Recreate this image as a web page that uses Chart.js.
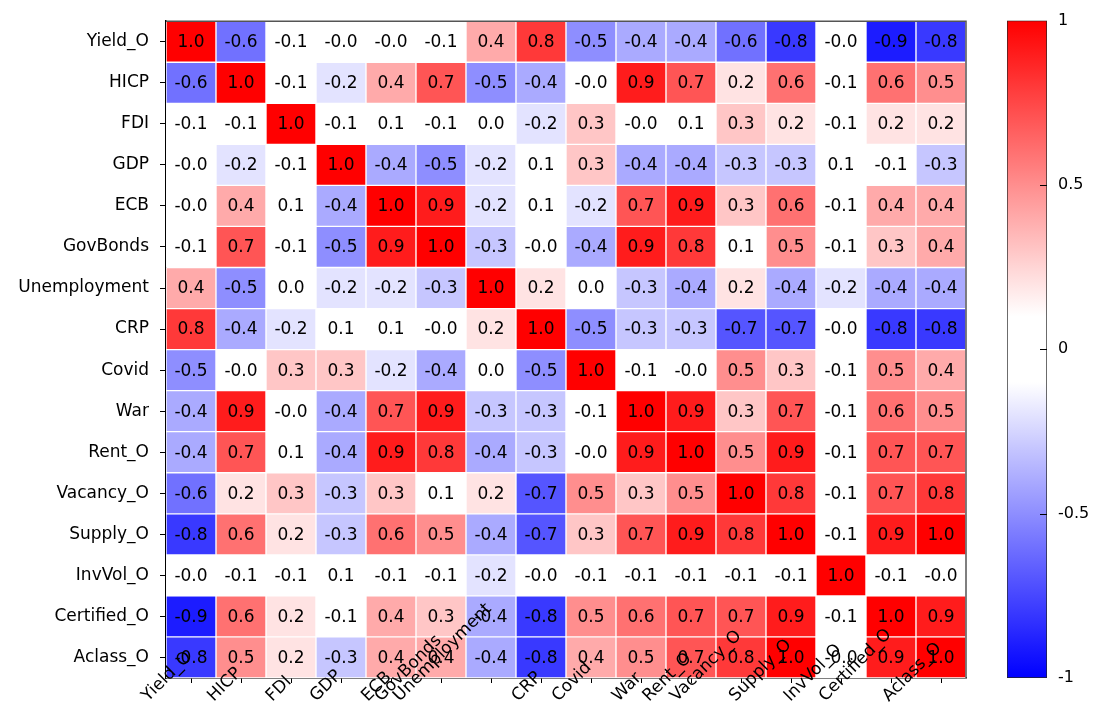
<!DOCTYPE html>
<html>
<head>
<meta charset="utf-8">
<script src="https://cdn.jsdelivr.net/npm/chart.js@4.4.0/dist/chart.umd.min.js"></script>
<style>
    html, body { margin: 0; padding: 0; background: #fff; }
    #wrap { position: relative; width: 1098px; height: 706px; }
    #heatmap { position: absolute; left: 0; top: 0; }
    #colorbar { position: absolute; left: 990px; top: 0; }
</style>
</head>
<body>
<div id="wrap">
    <canvas id="heatmap" width="1098" height="706"></canvas>
    <canvas id="colorbar" width="108" height="706"></canvas>
</div>
<script>
// Variable names (rows top to bottom, columns left to right)
const names = ['Yield_O', 'HICP', 'FDI', 'GDP', 'ECB', 'GovBonds', 'Unemployment', 'CRP',
    'Covid', 'War', 'Rent_O', 'Vacancy_O', 'Supply_O', 'InvVol_O', 'Certified_O', 'Aclass_O'];

// Correlations, one row per variable (-0.01 shows as "-0.0")
const rowYield = [1.0, -0.6, -0.1, -0.01, -0.01, -0.1, 0.4, 0.8, -0.5, -0.4, -0.4, -0.6, -0.8, -0.01, -0.9, -0.8];
const rowHicp = [-0.6, 1.0, -0.1, -0.2, 0.4, 0.7, -0.5, -0.4, -0.01, 0.9, 0.7, 0.2, 0.6, -0.1, 0.6, 0.5];
const rowFdi = [-0.1, -0.1, 1.0, -0.1, 0.1, -0.1, 0.01, -0.2, 0.3, -0.01, 0.1, 0.3, 0.2, -0.1, 0.2, 0.2];
const rowGdp = [-0.01, -0.2, -0.1, 1.0, -0.4, -0.5, -0.2, 0.1, 0.3, -0.4, -0.4, -0.3, -0.3, 0.1, -0.1, -0.3];
const rowEcb = [-0.01, 0.4, 0.1, -0.4, 1.0, 0.9, -0.2, 0.1, -0.2, 0.7, 0.9, 0.3, 0.6, -0.1, 0.4, 0.4];
const rowGovBonds = [-0.1, 0.7, -0.1, -0.5, 0.9, 1.0, -0.3, -0.01, -0.4, 0.9, 0.8, 0.1, 0.5, -0.1, 0.3, 0.4];
const rowUnemp = [0.4, -0.5, 0.01, -0.2, -0.2, -0.3, 1.0, 0.2, 0.01, -0.3, -0.4, 0.2, -0.4, -0.2, -0.4, -0.4];
const rowCrp = [0.8, -0.4, -0.2, 0.1, 0.1, -0.01, 0.2, 1.0, -0.5, -0.3, -0.3, -0.7, -0.7, -0.01, -0.8, -0.8];
const rowCovid = [-0.5, -0.01, 0.3, 0.3, -0.2, -0.4, 0.01, -0.5, 1.0, -0.1, -0.01, 0.5, 0.3, -0.1, 0.5, 0.4];
const rowWar = [-0.4, 0.9, -0.01, -0.4, 0.7, 0.9, -0.3, -0.3, -0.1, 1.0, 0.9, 0.3, 0.7, -0.1, 0.6, 0.5];
const rowRent = [-0.4, 0.7, 0.1, -0.4, 0.9, 0.8, -0.4, -0.3, -0.01, 0.9, 1.0, 0.5, 0.9, -0.1, 0.7, 0.7];
const rowVacancy = [-0.6, 0.2, 0.3, -0.3, 0.3, 0.1, 0.2, -0.7, 0.5, 0.3, 0.5, 1.0, 0.8, -0.1, 0.7, 0.8];
const rowSupply = [-0.8, 0.6, 0.2, -0.3, 0.6, 0.5, -0.4, -0.7, 0.3, 0.7, 0.9, 0.8, 1.0, -0.1, 0.9, 1.0];
const rowInvVol = [-0.01, -0.1, -0.1, 0.1, -0.1, -0.1, -0.2, -0.01, -0.1, -0.1, -0.1, -0.1, -0.1, 1.0, -0.1, -0.01];
const rowCertified = [-0.9, 0.6, 0.2, -0.1, 0.4, 0.3, -0.4, -0.8, 0.5, 0.6, 0.7, 0.7, 0.9, -0.1, 1.0, 0.9];
const rowAclass = [-0.8, 0.5, 0.2, -0.3, 0.4, 0.4, -0.4, -0.8, 0.4, 0.5, 0.7, 0.8, 1.0, -0.01, 0.9, 1.0];

const matrix = [rowYield, rowHicp, rowFdi, rowGdp, rowEcb, rowGovBonds, rowUnemp, rowCrp,
    rowCovid, rowWar, rowRent, rowVacancy, rowSupply, rowInvVol, rowCertified, rowAclass];

// Colour bar range and ticks
const cbRange = [-1, 1];
const cbTicks = [-1, -0.5, 0, 0.5, 1];

((document) => {
    'use strict';

    const FONT = 'DejaVu Sans';
    const SIZE = 17;

    // blue - white - red, with a small white band round zero
    function colorFor(v) {
        const t = Math.max(0, Math.min(1, (Math.abs(v) - 0.1) / 0.9));
        const c = Math.round(255 * (1 - t));
        return v >= 0 ? `rgb(255,${c},${c})` : `rgb(${c},${c},255)`;
    }

    const datasets = matrix.map((row, i) => ({
        label: names[i],
        data: row.map(() => [i - 0.5, i + 0.5]),
        backgroundColor: row.map(colorFor),
        borderColor: '#ffffff',
        borderWidth: 1,
        borderSkipped: false,
        barPercentage: 1,
        categoryPercentage: 1,
        grouped: false
    }));

    // Cell values, frame and the slanted x labels
    const cellText = {
        id: 'cellText',
        afterDatasetsDraw(chart) {
            const ctx = chart.ctx;
            ctx.save();
            ctx.font = `${SIZE}px "${FONT}"`;
            ctx.fillStyle = '#000';
            ctx.textAlign = 'center';
            ctx.textBaseline = 'middle';
            matrix.forEach((row, i) => {
                const meta = chart.getDatasetMeta(i);
                meta.data.forEach((el, j) => {
                    ctx.fillText(row[j].toFixed(1), el.x, (el.y + el.base) / 2 + 1);
                });
            });
            ctx.restore();
        },
        afterDraw(chart) {
            const ctx = chart.ctx;
            const a = chart.chartArea;
            ctx.save();
            ctx.strokeStyle = '#555';
            ctx.lineWidth = 1.5;
            ctx.beginPath();
            ctx.moveTo(a.left, a.top);
            ctx.lineTo(a.right, a.top);
            ctx.lineTo(a.right, a.bottom);
            ctx.stroke();

            const xs = chart.scales.x;
            ctx.font = `${SIZE}px "${FONT}"`;
            ctx.fillStyle = '#000';
            ctx.textAlign = 'left';
            ctx.textBaseline = 'alphabetic';
            names.forEach((name, i) => {
                const x = xs.getPixelForTick(i);
                const w = ctx.measureText(name).width * Math.SQRT1_2;
                ctx.save();
                ctx.translate(x - w + 1, 702);
                ctx.rotate(-Math.PI / 4);
                ctx.fillText(name, 0, 0);
                ctx.restore();
            });
            ctx.restore();
        }
    };

    new Chart(document.getElementById('heatmap'), {
        type: 'bar',
        data: { labels: names, datasets: datasets },
        options: {
            responsive: false,
            animation: false,
            layout: { padding: { top: 16, right: 132, left: 0, bottom: 0 } },
            plugins: { legend: { display: false }, tooltip: { enabled: false } },
            scales: {
                x: {
                    type: 'category',
                    offset: true,
                    grid: { offset: false, drawOnChartArea: false, tickLength: 5, color: '#000' },
                    border: { display: true, color: '#000', width: 1.5 },
                    ticks: { display: false },
                    afterFit: (s) => { s.height = 28; }
                },
                y: {
                    type: 'linear',
                    min: -0.5,
                    max: 15.5,
                    reverse: true,
                    afterBuildTicks: (s) => { s.ticks = names.map((_, i) => ({ value: i })); },
                    grid: { drawOnChartArea: false, tickLength: 6, color: '#000' },
                    border: { display: true, color: '#000', width: 1.5 },
                    ticks: {
                        padding: 11,
                        color: '#000',
                        font: { family: FONT, size: SIZE },
                        callback: (v) => names[v]
                    },
                    afterFit: (s) => { s.width = 166; }
                }
            }
        },
        plugins: [cellText]
    });

    // Colour bar
    const cbMarks = {
        id: 'cbMarks',
        afterDraw(chart) {
            const ctx = chart.ctx;
            const a = chart.chartArea;
            const ys = chart.scales.y;
            ctx.save();
            ctx.strokeStyle = '#000';
            ctx.lineWidth = 1;
            cbTicks.slice(1, -1).forEach((v) => {
                const y = Math.round(ys.getPixelForValue(v)) + 0.5;
                ctx.beginPath();
                ctx.moveTo(a.right - 7, y);
                ctx.lineTo(a.right, y);
                ctx.stroke();
            });
            ctx.restore();
        }
    };

    new Chart(document.getElementById('colorbar'), {
        type: 'bar',
        data: {
            labels: [''],
            datasets: [{
                data: [cbRange],
                backgroundColor: (c) => {
                    const area = c.chart.chartArea;
                    if (!area) return '#fff';
                    const g = c.chart.ctx.createLinearGradient(0, area.bottom, 0, area.top);
                    for (let k = 0; k <= 40; k++) {
                        const v = cbRange[0] + (cbRange[1] - cbRange[0]) * k / 40;
                        g.addColorStop(k / 40, colorFor(v));
                    }
                    return g;
                },
                borderColor: '#222',
                borderWidth: 1,
                borderSkipped: false,
                barPercentage: 1,
                categoryPercentage: 1
            }]
        },
        options: {
            responsive: false,
            animation: false,
            layout: { padding: { top: 14, left: 17, bottom: 28, right: 0 } },
            plugins: { legend: { display: false }, tooltip: { enabled: false } },
            scales: {
                x: { display: false },
                y: {
                    position: 'right',
                    min: cbRange[0],
                    max: cbRange[1],
                    afterBuildTicks: (s) => { s.ticks = cbTicks.map((v) => ({ value: v })); },
                    grid: { drawOnChartArea: false, drawTicks: false },
                    border: { display: false },
                    ticks: {
                        padding: 11,
                        color: '#000',
                        font: { family: FONT, size: 16 },
                        callback: (v) => String(v)
                    },
                    afterFit: (s) => { s.width = 51; }
                }
            }
        },
        plugins: [cbMarks]
    });
})(document);
</script>
</body>
</html>
